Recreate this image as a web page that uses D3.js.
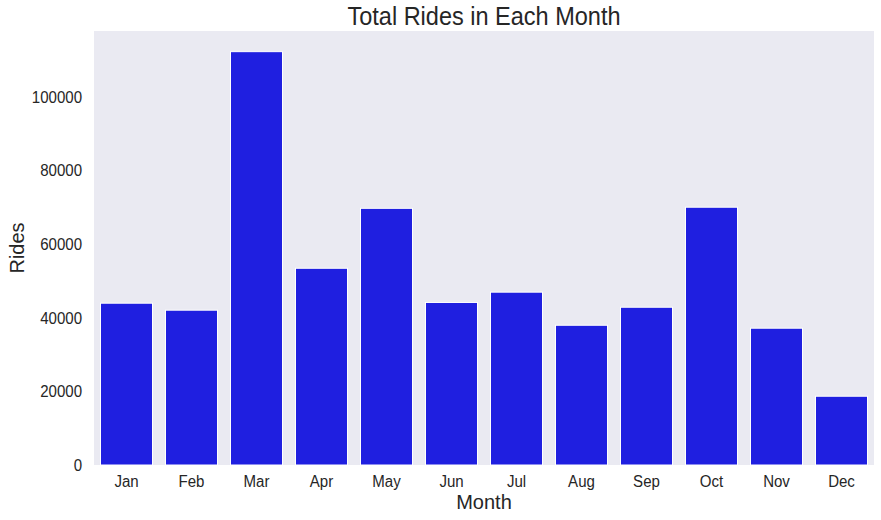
<!DOCTYPE html>
<html>
<head>
<meta charset="utf-8">
<script src="https://cdn.jsdelivr.net/npm/d3@7"></script>
<style>
  body { margin: 0; background: #fff; }
  svg { display: block; font-family: Arial, "Liberation Sans", sans-serif; }
</style>
</head>
<body>
<svg id="chart" width="881" height="520"></svg>
<script>
const months = ["Jan","Feb","Mar","Apr","May","Jun","Jul","Aug","Sep","Oct","Nov","Dec"];
const rides = [44000, 42100, 112400, 53500, 69800, 44200, 47000, 38000, 42900, 70100, 37200, 18700];
const yTicks = [0, 20000, 40000, 60000, 80000, 100000];
const titleText = "Total Rides in Each Month";
const xLabel = "Month";
const yLabel = "Rides";

const svg = d3.select("#chart");
const margin = { left: 94, top: 31, right: 7, bottom: 55 };
const W = 881, H = 520;
const plotW = W - margin.left - margin.right;
const plotH = H - margin.top - margin.bottom;
const textColor = "#262626";
const fontFam = "Arial, 'Liberation Sans', sans-serif";

function squeeze(sel, f) {
  sel.each(function () {
    const len = this.getComputedTextLength();
    d3.select(this).attr("textLength", len * f).attr("lengthAdjust", "spacingAndGlyphs");
  });
}

const x = d3.scaleBand().domain(months).range([0, plotW]).paddingInner(0.2).paddingOuter(0.1);
const y = d3.scaleLinear().domain([0, d3.max(rides) * 1.05]).range([plotH, 0]);

const g = svg.append("g").attr("transform", `translate(${margin.left},${margin.top})`);

g.append("rect").attr("width", plotW).attr("height", plotH).attr("fill", "#eaeaf2");

g.selectAll("rect.bar").data(rides).join("rect")
  .attr("class", "bar")
  .attr("x", (d, i) => x(months[i]))
  .attr("width", x.bandwidth())
  .attr("y", d => y(d))
  .attr("height", d => plotH - y(d))
  .attr("fill", "#1f1fe0")
  .attr("stroke", "#ffffff")
  .attr("stroke-width", 1);

const yAxis = g.append("g").call(d3.axisLeft(y).tickValues(yTicks).tickFormat(d3.format("d")).tickSize(0).tickPadding(12));
yAxis.select(".domain").remove();
yAxis.selectAll("text").attr("font-size", 16).attr("fill", textColor).attr("font-family", fontFam)
  .call(squeeze, 0.94);

const xAxis = g.append("g").attr("transform", `translate(0,${plotH})`)
  .call(d3.axisBottom(x).tickSize(0).tickPadding(11));
xAxis.select(".domain").remove();
xAxis.selectAll("text").attr("font-size", 16).attr("fill", textColor).attr("font-family", fontFam)
  .call(squeeze, 0.94);

svg.append("text")
  .attr("x", margin.left + plotW / 2).attr("y", 25)
  .attr("text-anchor", "middle").attr("font-size", 25).attr("fill", textColor)
  .text(titleText)
  .call(squeeze, 0.94);

svg.append("text")
  .attr("x", margin.left + plotW / 2).attr("y", 509)
  .attr("text-anchor", "middle").attr("font-size", 20).attr("fill", textColor)
  .text(xLabel);

svg.append("text")
  .attr("transform", `translate(24,${margin.top + plotH / 2}) rotate(-90)`)
  .attr("text-anchor", "middle").attr("font-size", 20).attr("fill", textColor)
  .text(yLabel);
</script>
</body>
</html>
